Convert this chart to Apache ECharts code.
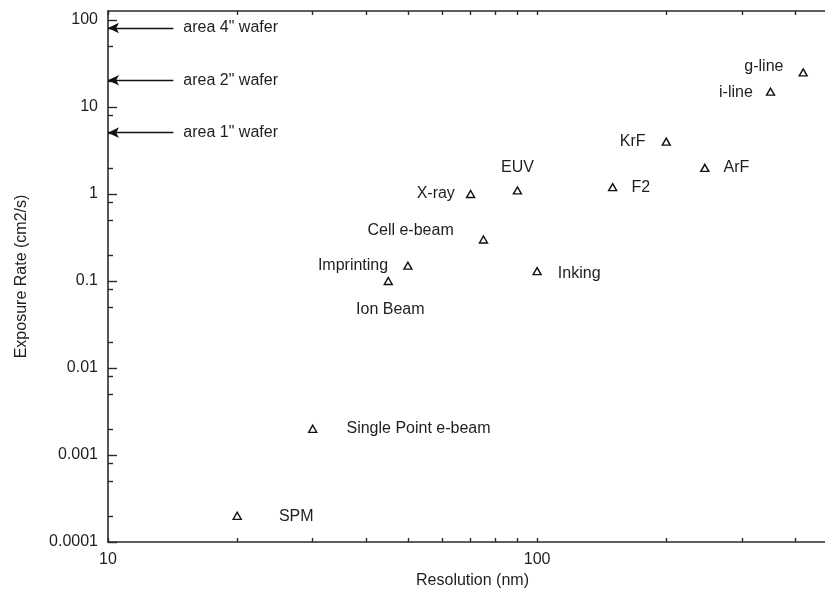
<!DOCTYPE html>
<html>
<head>
<meta charset="utf-8">
<script src="https://cdn.jsdelivr.net/npm/echarts@6/dist/echarts.min.js"></script>
<style>
html,body{margin:0;padding:0;background:#fff;}
#chart{width:825px;height:594px;}
</style>
</head>
<body>
<div id="chart"></div>
<script>
// ---- data ----
var techNames = ['SPM','Single Point e-beam','Ion Beam','Imprinting','Cell e-beam','X-ray','EUV','Inking','F2','KrF','ArF','i-line','g-line'];
var resolutionNm = [20, 30, 45, 50, 75, 70, 90, 100, 150, 200, 246, 350, 417];
var exposureRate = [0.0002, 0.002, 0.1, 0.15, 0.3, 1.0, 1.1, 0.13, 1.2, 4, 2, 15, 25];

var waferLabels = ['area 4" wafer', 'area 2" wafer', 'area 1" wafer'];
var waferAreas = [81, 20.3, 5.07];

var xTickMajor = [10, 100];
var xTickMinor = [20, 30, 40, 50, 60, 70, 80, 90, 200, 300, 400];
var yTickLabels = [0.0001, 0.001, 0.01, 0.1, 1, 10, 100];
var yTickMinorMult = [2, 5, 8];

// ---- label placement (style, kept separate) ----
var labelPlace = {
  'SPM': {position: 'right', distance: 37, offset: [0, 1]},
  'Single Point e-beam': {position: 'right', distance: 29, offset: [0, 0]},
  'Ion Beam': {position: 'bottom', distance: 16, offset: [2, 0]},
  'Imprinting': {position: 'left', distance: 15, offset: [0, 0]},
  'Cell e-beam': {position: 'left', distance: 25, offset: [0, -9]},
  'X-ray': {position: 'left', distance: 11, offset: [0, 0]},
  'EUV': {position: 'top', distance: 11, offset: [0, 0]},
  'Inking': {position: 'right', distance: 16, offset: [0, 2]},
  'F2': {position: 'right', distance: 14, offset: [0, 0]},
  'KrF': {position: 'left', distance: 16, offset: [0, 0]},
  'ArF': {position: 'right', distance: 14, offset: [0, 0]},
  'i-line': {position: 'left', distance: 13, offset: [0, 1]},
  'g-line': {position: 'left', distance: 15, offset: [0, -6]}
};

var yMinor = [];
yTickLabels.forEach(function (d) {
  yTickMinorMult.forEach(function (m) { yMinor.push(+(d * m).toPrecision(6)); });
});
yMinor = yMinor.filter(function (v) { return v <= 127; });

var FONT = 'Liberation Sans, Arial, Helvetica, sans-serif';
var TXT = '#1e1e1e';
var AXC = '#2a2a2a';

function fmt(v) { return String(+(+v).toPrecision(6)); }

var points = techNames.map(function (n, i) {
  var p = labelPlace[n];
  return {
    name: n,
    value: [resolutionNm[i], exposureRate[i]],
    label: {show: true, formatter: n, position: p.position, distance: p.distance, offset: p.offset, color: TXT}
  };
});

var arrowLines = waferLabels.map(function (t, i) {
  return [
    {coord: [14.2, waferAreas[i]], label: {formatter: t}},
    {coord: [10, waferAreas[i]]}
  ];
});

var chart = echarts.init(document.getElementById('chart'), null, {renderer: 'canvas'});
chart.setOption({
  backgroundColor: '#fff',
  animation: false,
  textStyle: {fontFamily: FONT},
  grid: {left: 108, top: 11, bottom: 52, right: -12, outerBoundsMode: 'none', containLabel: false},
  xAxis: [{
    type: 'log', logBase: 10, min: 10, max: 500,
    position: 'bottom',
    name: 'Resolution (nm)', nameLocation: 'middle', nameGap: 30,
    nameTextStyle: {fontSize: 16, color: TXT, fontFamily: FONT},
    axisLine: {show: true, lineStyle: {color: AXC, width: 1.6}},
    axisTick: {show: true, inside: true, length: 4, lineStyle: {color: AXC, width: 1.4}, customValues: xTickMajor.concat(xTickMinor)},
    axisLabel: {show: true, fontSize: 16, color: TXT, margin: 10, customValues: xTickMajor, formatter: fmt, fontFamily: FONT},
    splitLine: {show: false}, minorTick: {show: false}
  }, {
    type: 'log', logBase: 10, min: 10, max: 500,
    position: 'top',
    axisLine: {show: true, lineStyle: {color: AXC, width: 1.6}},
    axisTick: {show: true, inside: true, length: 4, lineStyle: {color: AXC, width: 1.4}, customValues: xTickMajor.concat(xTickMinor)},
    axisLabel: {show: false},
    splitLine: {show: false}
  }],
  yAxis: [{
    type: 'log', logBase: 10, min: 0.0001, max: 127,
    position: 'left',
    name: 'Exposure Rate (cm2/s)', nameLocation: 'middle', nameGap: 78, nameRotate: 90,
    nameTextStyle: {fontSize: 16, color: TXT, fontFamily: FONT},
    axisLine: {show: true, lineStyle: {color: AXC, width: 1.6}},
    axisTick: {show: true, inside: true, length: 5, lineStyle: {color: AXC, width: 1.4}, customValues: yMinor},
    axisLabel: {show: true, fontSize: 16, color: TXT, margin: 10, customValues: yTickLabels, formatter: fmt, fontFamily: FONT},
    splitLine: {show: false}
  }, {
    type: 'log', logBase: 10, min: 0.0001, max: 127,
    position: 'left',
    axisLine: {show: false},
    axisTick: {show: true, inside: true, length: 9, lineStyle: {color: AXC, width: 1.4}, customValues: yTickLabels},
    axisLabel: {show: false},
    splitLine: {show: false}
  }],
  series: [{
    type: 'scatter',
    xAxisIndex: 0, yAxisIndex: 0,
    symbol: 'triangle', symbolSize: [8, 7],
    itemStyle: {color: '#fff', borderColor: '#111', borderWidth: 1.4, opacity: 1},
    label: {fontSize: 16, color: TXT, fontFamily: FONT},
    emphasis: {disabled: true},
    data: points,
    markLine: {
      silent: true,
      symbol: ['none', 'arrow'],
      symbolSize: [8, 11],
      lineStyle: {color: '#111', width: 1.4, type: 'solid'},
      label: {show: true, position: 'start', distance: 10, fontSize: 16, color: TXT, fontFamily: FONT},
      data: arrowLines
    }
  }]
});
</script>
</body>
</html>
